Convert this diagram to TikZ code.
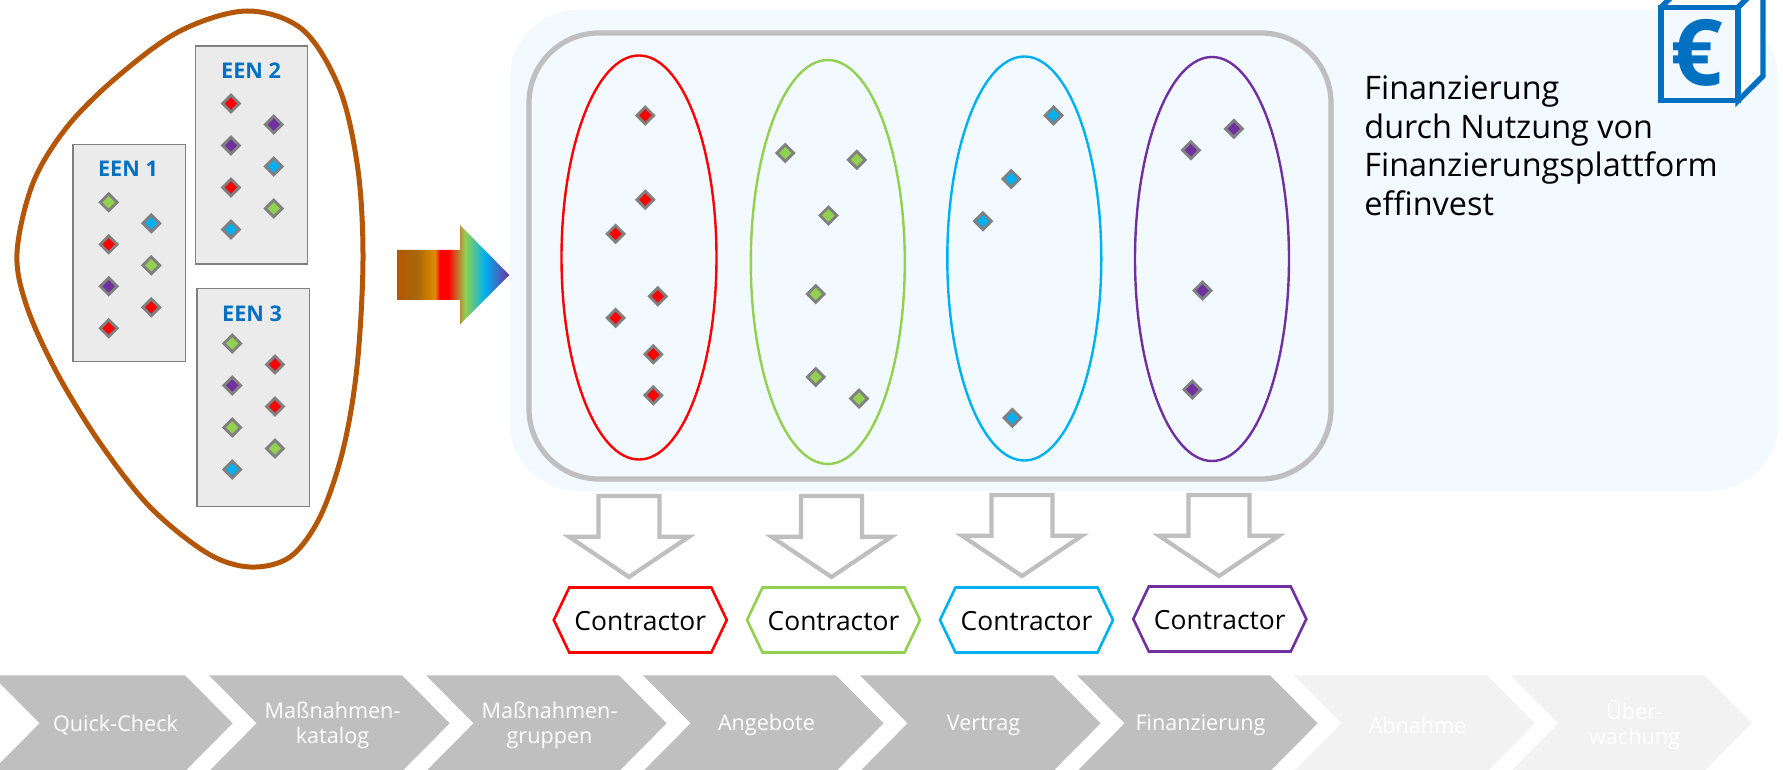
\documentclass[tikz,border=0pt]{standalone}
\usepackage{fontspec}
\setmainfont{Open Sans}
\usetikzlibrary{shapes.geometric}
\definecolor{brownline}{HTML}{B35607}
\definecolor{eenblue}{HTML}{0070C0}
\definecolor{eenfill}{HTML}{EBEBEB}
\definecolor{eenedge}{HTML}{808080}
\definecolor{lightarea}{HTML}{F2F9FF}
\definecolor{grayline}{HTML}{BFBFBF}
\definecolor{palegray}{HTML}{F2F2F2}
\definecolor{cgreen}{HTML}{92D050}
\definecolor{cblue}{HTML}{00B0F0}
\definecolor{cpurple}{HTML}{7030A0}
\definecolor{cred}{HTML}{FF0000}
\definecolor{corange}{HTML}{E08C00}
\definecolor{cmud}{HTML}{A8680A}
\pgfdeclarehorizontalshading{rainbowflow}{100bp}{
  color(0bp)=(brownline); color(25bp)=(brownline); color(34bp)=(cmud);
  color(41.9bp)=(corange); color(44bp)=(cred); color(47.8bp)=(cred);
  color(55.3bp)=(cgreen); color(64.2bp)=(cblue); color(75bp)=(cpurple);
  color(100bp)=(cpurple)}
\tikzset{
  gem/.style={diamond,draw=eenedge,line width=1.4pt,inner sep=0pt,minimum size=9pt},
  eenbox/.style={draw=eenedge,fill=eenfill,line width=0.9pt},
  eenlabel/.style={text=eenblue,font=\fontsize{10.8}{13}\selectfont\bfseries},
  oval/.style={line width=1.2pt},
  hollowarrow/.style={draw=grayline,fill=white,line width=2.1pt},
  hexline/.style={line width=1.3pt,fill=white},
  hexlabel/.style={font=\fontsize{13.2}{16}\selectfont},
  steplabel/.style={text=white,align=center,font=\fontsize{10.8}{12.5}\selectfont},
}
\begin{document}
\begin{tikzpicture}[x=0.5pt,y=-0.5pt]
\useasboundingbox (0,0) rectangle (1783,770);
\fill[white] (0,0) rectangle (1783,770);
\clip (0,0) rectangle (1783,770);
% light area and box icon
\fill[lightarea,rounded corners=34pt] (510,10) rectangle (1778,491);
\draw[eenblue,line width=2.7pt,fill=white] (1738,7.5) -- (1763,-18) -- (1763,76) -- (1738,100.8) -- cycle;
\draw[eenblue,line width=2.7pt] (1661,7.5) -- (1686,-18) -- (1763,-18) -- (1738,7.5);
\draw[eenblue,line width=2.7pt] (1661,7.5) rectangle (1738,100.8);
\node[text=eenblue,font=\fontsize{46}{50}\selectfont\bfseries,inner sep=0pt] (euro) at (1697,53) {€};
% left group
\draw[brownline,line width=2.5pt] plot[smooth cycle,tension=0.55] coordinates {(247,11) (303,30) (340,90) (358,170) (363,260) (357,367) (343,450) (320,517) (290,557) (250,567) (207,553) (150,507) (100,443) (57,373) (27,307) (17,253) (33,183) (67,127) (117,77) (180,31)};
\draw[eenbox] (73,144.5) rectangle (185.5,361.5);
\draw[eenbox] (195.5,46) rectangle (307.5,264);
\draw[eenbox] (197,288.5) rectangle (309.5,506.5);
\node[eenlabel] (een1) at (128,169) {EEN 1};
\node[eenlabel] (een2) at (251,71) {EEN 2};
\node[eenlabel] (een3) at (252,314) {EEN 3};
\foreach \px/\py/\pc [count=\i] in {
  108.7/202.3/cgreen,151.3/223.3/cblue,108.7/244.3/cred,151.3/265.3/cgreen,108.7/286.3/cpurple,151.3/307.3/cred,108.7/328.3/cred,
  231/103.5/cred,273.7/124.5/cpurple,231/145.5/cpurple,273.7/166.5/cblue,231/187.5/cred,273.7/208.5/cgreen,231/229.5/cblue,
  232.3/343.5/cgreen,275/364.5/cred,232.3/385.5/cpurple,275/406.5/cred,232.3/427.5/cgreen,275/448.5/cgreen,232.3/469.5/cblue}
  \node[gem,fill=\pc] (een\i) at (\px,\py) {};
% rainbow arrow
\shade[shading=rainbowflow] (397,250) -- (460,250) -- (460,225) -- (509.3,275) -- (460,324.5) -- (460,300) -- (397,300) -- cycle;
% groups
\draw[grayline,line width=2.6pt,rounded corners=35pt] (529,33) rectangle (1331,479);
\draw[oval,cred] (639,257.5) ellipse [x radius=77.5,y radius=202];
\draw[oval,cgreen] (827.8,262) ellipse [x radius=77,y radius=202];
\draw[oval,cblue] (1024.3,258.5) ellipse [x radius=77,y radius=202];
\draw[oval,cpurple] (1212,259) ellipse [x radius=77,y radius=202];
\foreach \px/\py/\pc [count=\i] in {
  645.3/115.5/cred,645.3/199.7/cred,615.6/233.8/cred,657.8/296.3/cred,615.6/317.9/cred,653.3/354.3/cred,653.3/395.3/cred,
  785.2/153/cgreen,856.8/159.8/cgreen,828.4/215.5/cgreen,815.7/294/cgreen,815.7/377/cgreen,859/398.6/cgreen,
  1053.5/115.4/cblue,1011.3/179/cblue,982.9/221.2/cblue,1012.4/417.9/cblue,
  1233.9/128.8/cpurple,1190.9/150.2/cpurple,1202.5/290.6/cpurple,1192.3/389.6/cpurple}
  \node[gem,fill=\pc] (pick\i) at (\px,\py) {};
\node[anchor=north west,inner sep=0pt,align=left,font=\fontsize{16.2}{19.25}\selectfont] (finance) at (1364,75.5) {Finanzierung\\durch Nutzung von\\Finanzierungsplattform\\effinvest};
% arrows and contractors
\foreach \cx/\cy/\cc [count=\i] in {629/0/cred,831.5/0/cgreen,1022/-1/cblue,1219/-1/cpurple}
  \draw[hollowarrow] ({\cx-30.5},496+\cy) -- ({\cx+30.5},496+\cy) -- ({\cx+30.5},536.7+\cy) -- ({\cx+60},536.7+\cy) -- (\cx,577+\cy) -- ({\cx-60},536.7+\cy) -- ({\cx-30.5},536.7+\cy) -- cycle;
\foreach \cx/\cy/\cc [count=\i] in {640.3/620/cred,833.5/620/cgreen,1026.5/620/cblue,1219.8/619/cpurple}{
  \draw[hexline,draw=\cc] ({\cx-86.5},\cy) -- ({\cx-71},\cy-32.5) -- ({\cx+71},\cy-32.5) -- ({\cx+86.5},\cy) -- ({\cx+71},\cy+32.5) -- ({\cx-71},\cy+32.5) -- cycle;
  \node[hexlabel] (contractor\i) at (\cx,\cy+1) {Contractor};
}
% process steps
\foreach \k/\sc in {0/grayline,1/grayline,2/grayline,3/grayline,4/grayline,5/grayline,6/palegray,7/palegray}
  \fill[\sc] ({-8+217*\k},675.3) -- ({185+217*\k},675.3) -- ({232.6+217*\k},723.3) -- ({185+217*\k},771.3) -- ({-8+217*\k},771.3) -- ({39.6+217*\k},723.3) -- cycle;
\node[steplabel] (step1) at (115.5,725) {Quick-Check};
\node[steplabel] (step2) at (332.5,725) {Maßnahmen-\\katalog};
\node[steplabel] (step3) at (549.5,725) {Maßnahmen-\\gruppen};
\node[steplabel] (step4) at (766.5,725) {Angebote};
\node[steplabel] (step5) at (983.5,725) {Vertrag};
\node[steplabel] (step6) at (1200.5,725) {Finanzierung};
\node[steplabel] (step7) at (1417.5,725) {Abnahme};
\node[steplabel] (step8) at (1634.5,725) {Über-\\wachung};
\end{tikzpicture}
\end{document}
